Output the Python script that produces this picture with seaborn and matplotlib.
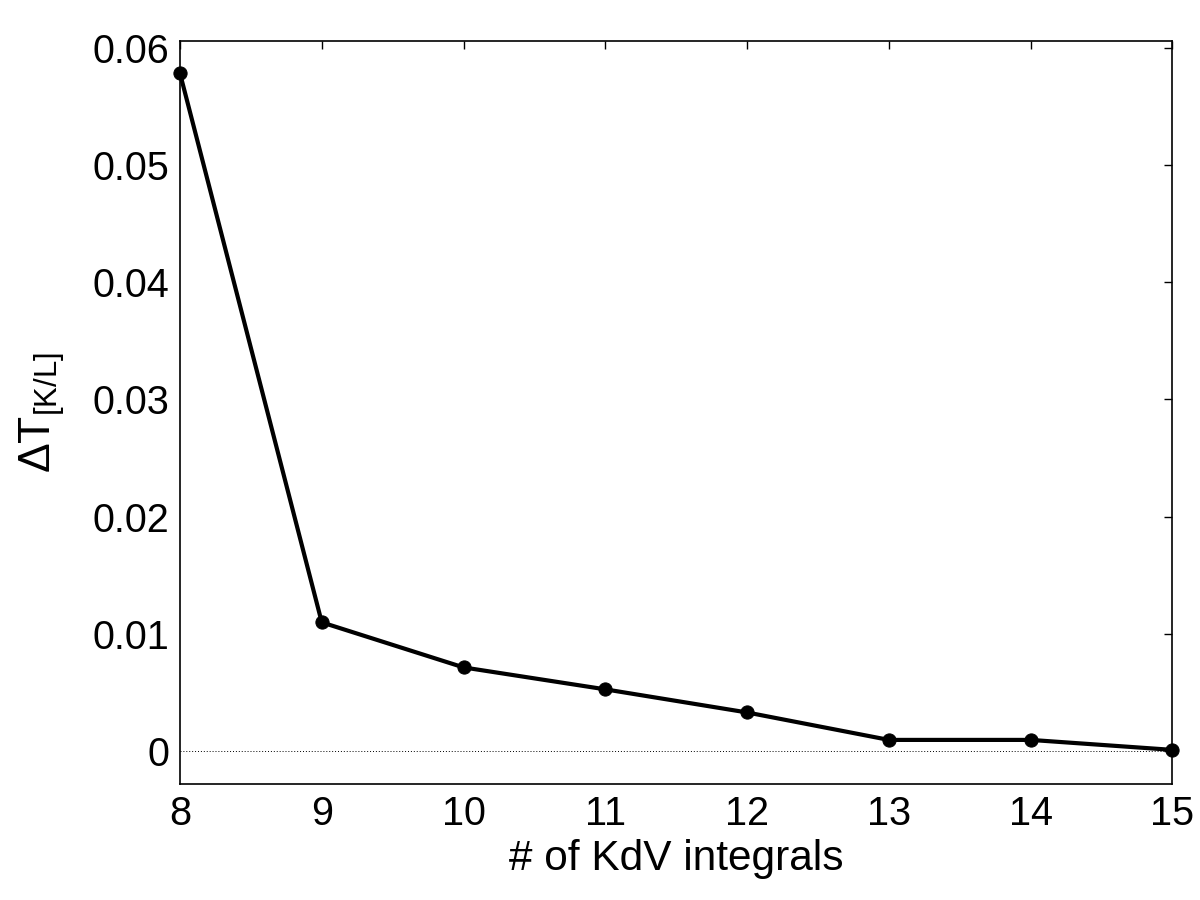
import matplotlib
matplotlib.use("Agg")
import matplotlib.pyplot as plt
import seaborn as sns
import pandas as pd

n_integrals = [8, 9, 10, 11, 12, 13, 14, 15]
delta_t = [0.0578, 0.0110, 0.00716, 0.00529, 0.00332, 0.00098, 0.00098, 0.00013]

sns.set_theme(style="white")
plt.rcParams['font.family'] = ['Liberation Sans', 'DejaVu Sans']
plt.rcParams['mathtext.fontset'] = 'custom'
plt.rcParams['mathtext.rm'] = 'Liberation Sans'
plt.rcParams['mathtext.it'] = 'Liberation Sans'
plt.rcParams['text.color'] = 'black'
plt.rcParams['axes.labelcolor'] = 'black'

df = pd.DataFrame({"n": n_integrals, "dt": delta_t})

fig = plt.figure(figsize=(12, 9), dpi=100)
ax = fig.add_axes([0.15, 0.129, 0.827, 0.826])

ax.axhline(0, color="black", linestyle=(0, (1, 2)), linewidth=0.7, zorder=1)
sns.lineplot(data=df, x="n", y="dt", ax=ax, color="black", linewidth=3.0,
             marker="o", markersize=9.5, markeredgecolor="black", clip_on=False, zorder=3)

ax.set_xlim(8, 15)
ax.set_ylim(-0.00277, 0.0606)
ax.set_xticks(n_integrals)
ax.set_yticks([0, 0.01, 0.02, 0.03, 0.04, 0.05, 0.06])
ax.set_yticklabels(["0", "0.01", "0.02", "0.03", "0.04", "0.05", "0.06"])

ax.tick_params(direction="in", length=6, width=1, top=True, right=True,
               labelsize=28.5, labelcolor="black", color="black", pad=8)
for s in ax.spines.values():
    s.set_visible(True)
    s.set_color("black")
    s.set_linewidth(1.2)

ax.set_xlabel("# of KdV integrals", fontsize=30.5, labelpad=4, color="black")
ax.set_ylabel(r"$\Delta\mathrm{T}_{[K/L]}$", fontsize=32, labelpad=18, color="black")

fig.savefig("out.png", dpi=100)
